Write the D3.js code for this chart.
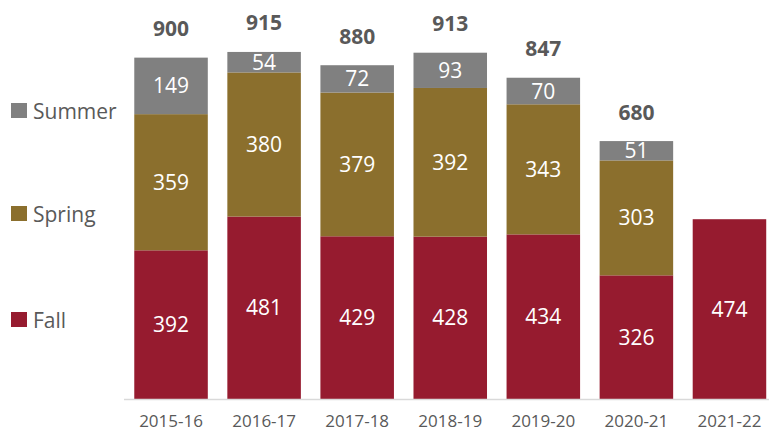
<!DOCTYPE html>
<html>
<head>
    <title>Enrollment by Term</title>
    <script src="https://cdnjs.cloudflare.com/ajax/libs/d3/7.8.5/d3.min.js"></script>
    <style>
        body { margin: 0; background: #fff; }
        text { font-family: "Open Sans", Lato, sans-serif; }
    </style>
</head>
<body>
    <div id="chart"></div>
    <script>
        // Data
        const years = ["2015-16", "2016-17", "2017-18", "2018-19", "2019-20", "2020-21", "2021-22"];
        const fall = [392, 481, 429, 428, 434, 326, 474];
        const spring = [359, 380, 379, 392, 343, 303, 0];
        const summer = [149, 54, 72, 93, 70, 51, 0];
        const terms = ["Fall", "Spring", "Summer"];
        const colors = {Fall: "#961B2F", Spring: "#8B6F2D", Summer: "#808080"};

        const width = 769, height = 433;

        const rows = years.map((y, i) => ({year: y, Fall: fall[i], Spring: spring[i], Summer: summer[i]}));

        const svg = d3.select("#chart").append("svg")
            .attr("width", width)
            .attr("height", height);

        const x = d3.scaleBand()
            .domain(years)
            .range([124.5, 776])
            .paddingInner(0.21)
            .paddingOuter(0.105);

        const y = d3.scaleLinear()
            .domain([0, 1000])
            .range([399, 19.7]);

        const stack = d3.stack().keys(terms)(rows);

        // Bars
        const layers = svg.selectAll("g.layer")
            .data(stack)
            .join("g")
                .attr("class", "layer")
                .attr("fill", d => colors[d.key]);

        layers.selectAll("rect")
            .data(d => d.filter(s => s[1] - s[0] > 0))
            .join("rect")
                .attr("x", d => x(d.data.year))
                .attr("y", d => y(d[1]))
                .attr("width", x.bandwidth())
                .attr("height", d => y(d[0]) - y(d[1]));

        // Segment value labels
        layers.selectAll("text")
            .data(d => d.filter(s => s[1] - s[0] > 0))
            .join("text")
                .attr("x", d => x(d.data.year) + x.bandwidth() / 2)
                .attr("y", d => (y(d[0]) + y(d[1])) / 2)
                .attr("dy", "0.36em")
                .attr("text-anchor", "middle")
                .attr("fill", "#fff")
                .style("font-size", "21px")
                .text(d => d[1] - d[0]);

        // Totals above bars (only where spring/summer are reported)
        svg.selectAll("text.total")
            .data(rows.filter(r => r.Summer > 0))
            .join("text")
                .attr("class", "total")
                .attr("x", d => x(d.year) + x.bandwidth() / 2)
                .attr("y", d => y(d.Fall + d.Spring + d.Summer) - 21.5)
                .attr("text-anchor", "middle")
                .attr("fill", "#595959")
                .style("font-size", "21px")
                .style("font-weight", "bold")
                .text(d => d.Fall + d.Spring + d.Summer);

        // X axis
        const xAxis = svg.append("g")
            .attr("transform", `translate(0,${y(0)})`)
            .call(d3.axisBottom(x).tickSize(0).tickPadding(16));
        xAxis.select(".domain").remove();
        xAxis.selectAll("text")
            .attr("fill", "#595959")
            .style("font-size", "17px")
            .style("font-family", "'Open Sans', sans-serif");

        svg.append("line")
            .attr("x1", 124)
            .attr("x2", 769)
            .attr("y1", y(0) + 0.5)
            .attr("y2", y(0) + 0.5)
            .attr("stroke", "#D9D9D9")
            .attr("stroke-width", 1.5);

        // Legend
        const legendY = {Summer: 111, Spring: 214, Fall: 320};
        const legend = svg.selectAll("g.legend")
            .data(terms)
            .join("g")
                .attr("class", "legend")
                .attr("transform", d => `translate(11,${legendY[d]})`);

        legend.append("rect")
            .attr("x", 0)
            .attr("y", -8)
            .attr("width", 16)
            .attr("height", 15)
            .attr("fill", d => colors[d]);

        legend.append("text")
            .attr("x", 22)
            .attr("y", 0)
            .attr("dy", "0.36em")
            .attr("fill", "#595959")
            .style("font-size", "21px")
            .text(d => d);
    </script>
</body>
</html>
